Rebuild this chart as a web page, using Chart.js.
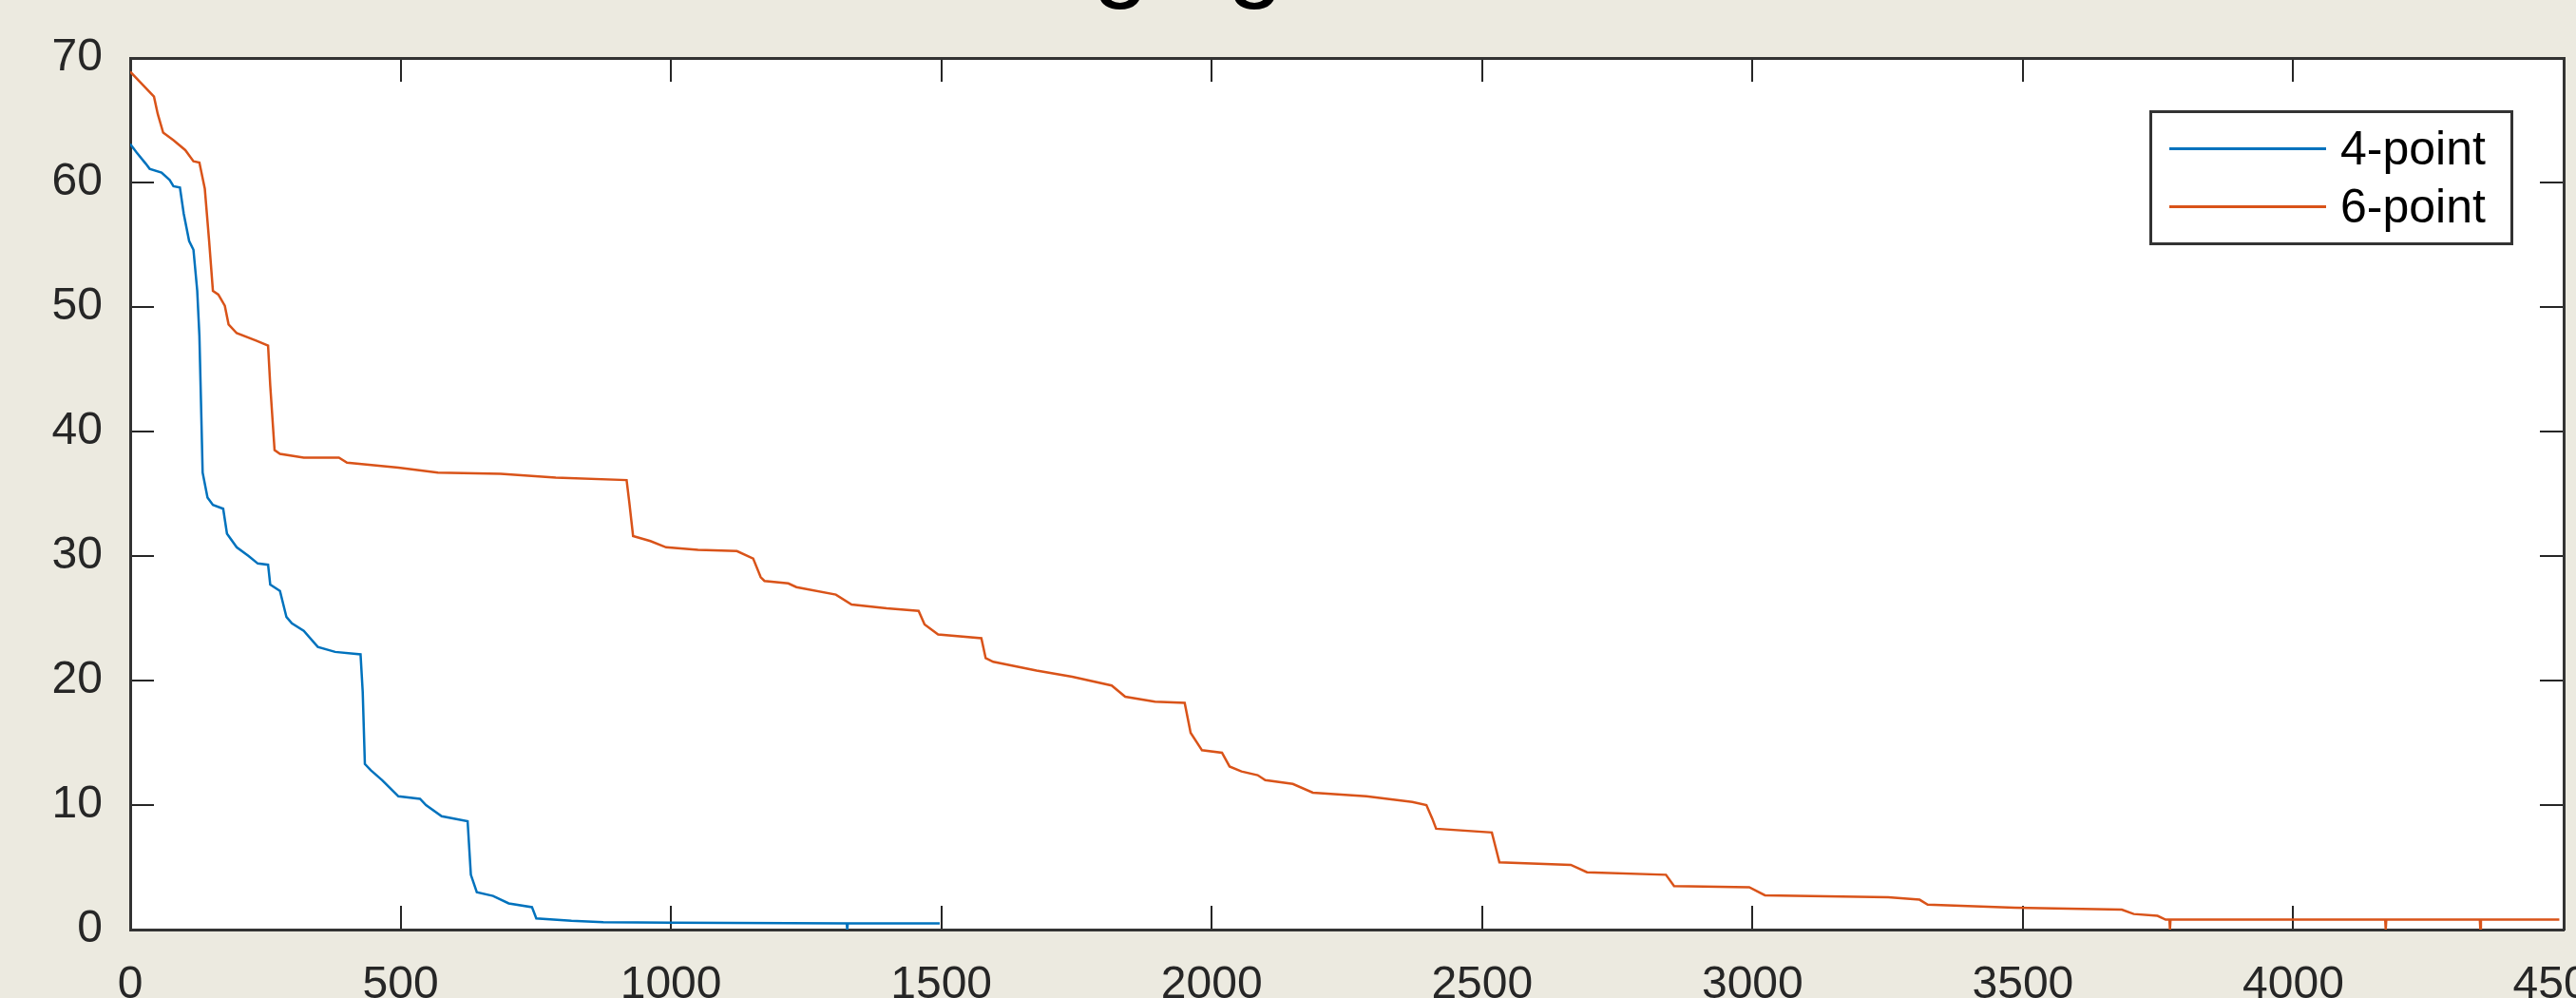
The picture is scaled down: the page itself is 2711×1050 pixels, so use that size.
<!DOCTYPE html>
<html>
<head>
<meta charset="utf-8">
<script src="https://cdn.jsdelivr.net/npm/chart.js@4"></script>
<style>
  html, body { margin: 0; padding: 0; background: #ECEAE0; overflow: hidden; width: 2711px; height: 1050px; }
  #title { position: absolute; top: -102px; left: 0; font: 106px "Liberation Sans", Arial, sans-serif; line-height: 106px; white-space: nowrap; color: #000; }
  #wrap { position: absolute; left: 0; top: 0; width: 2711px; height: 1100px; }
  #legend { position: absolute; left: 2262px; top: 116px; width: 383px; height: 142px; box-sizing: border-box; border: 3px solid #333; background: #fff; font: 50px "Liberation Sans", Arial, sans-serif; color: #000; }
  .swatch { position: absolute; left: 18px; width: 165px; height: 3px; }
  .lbl { position: absolute; left: 198px; height: 60px; line-height: 60px; }
</style>
</head>
<body>
<div id="title">Converging</div>
<div id="wrap"><canvas id="chart"></canvas></div>
<div id="legend"></div>
<script>
// Series: iteration (x) and value (y)
const names = ["4-point", "6-point"];
const colors = ["#0072BD", "#D95319"];

const x4 = [0, 12, 29, 36, 58, 73, 80, 92, 99, 109, 117, 124, 128, 131, 134, 143, 153, 172, 179, 197,
  219, 236, 255, 259, 277, 289, 299, 321, 347, 379, 426, 430, 434, 445, 466, 496, 536, 547, 576, 624,
  630, 641, 671, 700, 743, 751, 816, 875, 1000, 1325, 1326, 1327, 1497];
const y4 = [63.1, 62.4, 61.5, 61.1, 60.8, 60.2, 59.7, 59.6, 57.5, 55.3, 54.6, 51.3, 47.7, 42.3, 36.7, 34.7, 34.1, 33.8, 31.8, 30.7,
  30.0, 29.4, 29.3, 27.7, 27.2, 25.1, 24.6, 24.0, 22.7, 22.3, 22.1, 19.1, 13.3, 12.8, 12.0, 10.7, 10.5, 10.0, 9.1, 8.7,
  4.4, 3.0, 2.7, 2.1, 1.8, 0.9, 0.7, 0.6, 0.55, 0.5, 0.0, 0.5, 0.5];

const x6 = [0, 44, 51, 61, 80, 102, 117, 128, 138, 146, 153, 163, 175, 182, 197, 233, 255, 259, 267, 277,
  321, 386, 401, 496, 569, 685, 787, 918, 923, 930, 962, 991, 1050, 1122, 1152, 1166, 1173, 1217, 1232, 1305,
  1334, 1399, 1458, 1469, 1494, 1574, 1582, 1596, 1676, 1742, 1815, 1840, 1895, 1950, 1961, 1982, 2019, 2033, 2055, 2085,
  2099, 2150, 2187, 2286, 2371, 2397, 2408, 2415, 2518, 2525, 2532, 2664, 2694, 2840, 2855, 2994, 3023, 3251, 3309, 3324,
  3485, 3683, 3705, 3749, 3764, 3771, 3772, 3773, 4170, 4171, 4172, 4345, 4346, 4347, 4492];
const y6 = [68.9, 66.9, 65.5, 64.0, 63.4, 62.6, 61.7, 61.6, 59.5, 55.3, 51.3, 51.0, 50.1, 48.6, 47.9, 47.3, 46.9, 43.7, 38.5, 38.2,
  37.9, 37.9, 37.5, 37.1, 36.7, 36.6, 36.3, 36.1, 34.3, 31.6, 31.2, 30.7, 30.5, 30.4, 29.8, 28.3, 28.0, 27.8, 27.5, 26.9,
  26.1, 25.8, 25.6, 24.5, 23.7, 23.4, 21.8, 21.5, 20.8, 20.3, 19.6, 18.7, 18.3, 18.2, 15.8, 14.4, 14.2, 13.1, 12.7, 12.4,
  12.0, 11.7, 11.0, 10.7, 10.25, 10.0, 8.9, 8.1, 7.8, 6.6, 5.4, 5.2, 4.6, 4.4, 3.5, 3.4, 2.75, 2.6, 2.4, 2.0,
  1.75, 1.6, 1.25, 1.1, 0.8, 0.8, 0.0, 0.8, 0.8, 0.0, 0.8, 0.8, 0.0, 0.8, 0.8];

// Axis ranges and tick spacing
const xMin = 0, xMax = 4500, xStep = 500;
const yMin = 0, yMax = 70, yStep = 10;

const axisColor = "#262626";
const tickFont = { family: "'Liberation Sans', Arial, sans-serif", size: 48 };

function pts(xs, ys) {
  return xs.map((x, i) => ({ x: x, y: ys[i] }));
}

// white plot background
const plotBg = {
  id: "plotBg",
  beforeDraw(chart) {
    const a = chart.chartArea;
    const c = chart.ctx;
    c.save();
    c.fillStyle = "#fff";
    c.fillRect(a.left, a.top, a.right - a.left, a.bottom - a.top);
    c.restore();
  }
};

function grid() {
  return { drawOnChartArea: false, drawTicks: true, tickLength: -25, color: axisColor, lineWidth: 2 };
}
function border() {
  return { display: true, color: "#333", width: 3 };
}

const chart = new Chart("chart", {
  type: "line",
  data: {
    datasets: [
      { label: names[0], data: pts(x4, y4), borderColor: colors[0], borderWidth: 2.5, pointRadius: 0, tension: 0, fill: false },
      { label: names[1], data: pts(x6, y6), borderColor: colors[1], borderWidth: 2.5, pointRadius: 0, tension: 0, fill: false },
    ],
  },
  options: {
    responsive: true,
    maintainAspectRatio: false,
    animation: false,
    layout: { padding: { top: 61, right: 13, left: 0, bottom: 0 } },
    plugins: { legend: { display: false }, tooltip: { enabled: false } },
    scales: {
      x: {
        type: "linear", position: "bottom", min: xMin, max: xMax,
        ticks: { stepSize: xStep, font: tickFont, color: axisColor, padding: 55, maxRotation: 0, callback: v => String(v) },
        grid: grid(), border: border(),
        afterFit(s) { s.height = 122; s.paddingLeft = 0; s.paddingRight = 0; }
      },
      x2: {
        type: "linear", position: "top", min: xMin, max: xMax,
        ticks: { stepSize: xStep, display: false },
        grid: grid(), border: border(),
        afterFit(s) { s.height = 0; s.paddingLeft = 0; s.paddingRight = 0; }
      },
      y: {
        type: "linear", position: "left", min: yMin, max: yMax,
        ticks: { stepSize: yStep, font: tickFont, color: axisColor, padding: 54, callback: v => String(v) },
        grid: grid(), border: border(),
        afterFit(s) { s.width = 137; s.paddingTop = 0; s.paddingBottom = 0; }
      },
      y2: {
        type: "linear", position: "right", min: yMin, max: yMax,
        ticks: { stepSize: yStep, display: false },
        grid: grid(), border: border(),
        afterFit(s) { s.width = 0; s.paddingTop = 0; s.paddingBottom = 0; }
      },
    },
  },
  plugins: [plotBg],
});

// Legend box built from the datasets
const legend = document.getElementById("legend");
chart.data.datasets.forEach((ds, i) => {
  const cy = 37 + i * 61;
  const sw = document.createElement("div");
  sw.className = "swatch";
  sw.style.top = (cy - 1.5) + "px";
  sw.style.background = ds.borderColor;
  legend.appendChild(sw);
  const lb = document.createElement("div");
  lb.className = "lbl";
  lb.style.top = (cy - 30) + "px";
  lb.textContent = ds.label;
  legend.appendChild(lb);
});

// Title sits mostly above the page; line up its "ging"
const title = document.getElementById("title");
const m = document.createElement("canvas").getContext("2d");
m.font = '106px "Liberation Sans"';
const txt = title.textContent;
const pre = txt.slice(0, txt.indexOf("ging"));
title.style.left = (1150 - m.measureText(pre).width) + "px";
</script>
</body>
</html>
